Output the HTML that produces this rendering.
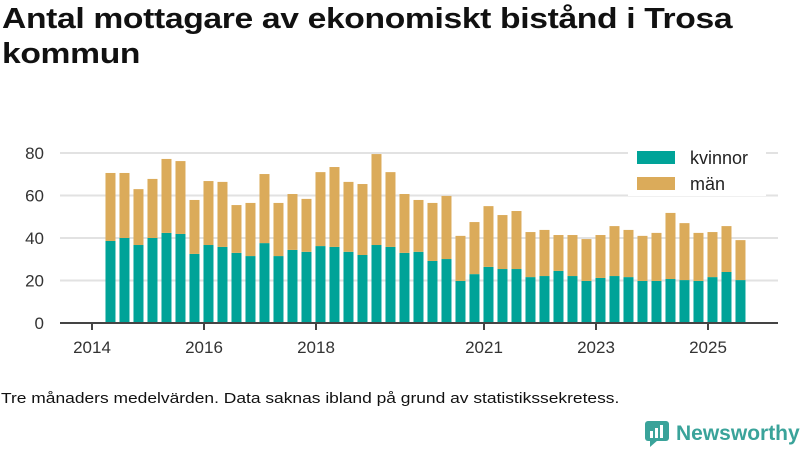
<!DOCTYPE html>
<html><head><meta charset="utf-8"><style>
body{margin:0;width:800px;height:450px;background:#fff;font-family:"Liberation Sans",sans-serif;overflow:hidden;position:relative}
h1{position:absolute;left:2px;top:2px;margin:0;font-size:29px;line-height:35px;font-weight:bold;color:#111;letter-spacing:-0.3px;transform:scaleX(1.16);transform-origin:left top;white-space:nowrap}
.cap{position:absolute;left:1px;top:390px;font-size:15px;color:#111;transform:scaleX(1.16);transform-origin:left top;white-space:nowrap}
.logo{position:absolute;left:644px;top:420px;font-size:21px;font-weight:bold;color:#3aa39a;display:flex;align-items:center}
</style></head><body>
<h1>Antal mottagare av ekonomiskt bistånd i Trosa<br>kommun</h1>
<svg id="c" width="800" height="450" style="position:absolute;left:0;top:0"></svg>
<div class="cap">Tre månaders medelvärden. Data saknas ibland på grund av statistikssekretess.</div>
<div class="logo"><svg width="26" height="28" style="margin-right:6px"><rect x="1" y="1" width="24" height="20" rx="3" fill="#3aa39a"/><polygon points="6,20 14,20 6,27" fill="#3aa39a"/><rect x="6" y="11" width="3" height="7" fill="#fff"/><rect x="11" y="8" width="3" height="10" fill="#fff"/><rect x="16" y="5" width="3" height="13" fill="#fff"/></svg>Newsworthy</div>
<script>
const dates=[];for(let i=0;i<46;i++)dates.push(2014.33+0.25*i);
const kvinnor=[38.6,40,36.7,40,42.4,41.9,32.5,36.7,35.8,33,31.5,37.6,31.5,34.4,33.5,36.2,35.8,33.5,32,36.7,35.8,33,33.5,29.2,30.1,19.8,23,26.4,25.4,25.4,21.6,22.1,24.5,22.1,19.8,21.2,22.1,21.6,19.8,19.8,20.7,20.2,19.8,21.6,24,20.2];
const man=[32,30.6,26.3,27.8,34.8,34.3,25.4,30.1,30.6,22.5,25,32.5,25,26.3,24.9,34.8,37.6,32.9,33.4,42.8,35.2,27.7,24.4,27.3,29.7,21.2,24.5,28.6,25.4,27.3,21.2,21.7,16.9,19.3,19.7,20.2,23.5,22.2,21.2,22.6,31.1,26.8,22.6,21.2,21.6,18.8];
const yTicks=[0,20,40,60,80];
const xTicks=[2014,2016,2018,2021,2023,2025];
const NS="http://www.w3.org/2000/svg",svg=document.getElementById('c');
const X=t=>92+(t-2014)*56, Y=v=>323-v*2.125;
function el(n,a,p){const e=document.createElementNS(NS,n);for(const k in a)e.setAttribute(k,a[k]);(p||svg).appendChild(e);return e;}
yTicks.forEach(v=>{
 if(v>0){const g=el('line',{x1:60,x2:778,y1:Y(v),y2:Y(v),stroke:'#e2e2e2','stroke-width':2});
 
 }
 const t=el('text',{x:44,y:Y(v)+6,'text-anchor':'end','font-size':17,fill:'#333','font-family':'Liberation Sans'});t.textContent=v;
 
 
});
dates.forEach((d,i)=>{
 const x=X(d)-5;
 const a=el('rect',{x:x,width:10,y:Y(kvinnor[i]),height:kvinnor[i]*2.125,fill:'#00a398'});
 
 
 const b=el('rect',{x:x,width:10,y:Y(kvinnor[i]+man[i]),height:man[i]*2.125,fill:'#dbab5a'});
 
 
});
const ax=el('line',{x1:60,x2:778,y1:323,y2:323,stroke:'#444','stroke-width':2});


xTicks.forEach(y=>{
 const l=el('line',{x1:X(y),x2:X(y),y1:323,y2:330,stroke:'#444','stroke-width':2});
 
 
 const t=el('text',{x:X(y),y:353,'text-anchor':'middle','font-size':17,fill:'#333','font-family':'Liberation Sans'});t.textContent=y;
 
 
});
const lg=el('g',{});


el('rect',{x:628,y:144,width:138,height:52,fill:'#fff'},lg);
[['kvinnor','#00a398',151],['män','#dbab5a',177]].forEach(([n,c,y])=>{
 const r=el('rect',{x:637,y:y,width:38,height:13,fill:c},lg);
 
 
 const t=el('text',{x:690,y:y+13,'font-size':18,fill:'#222','font-family':'Liberation Sans'},lg);t.textContent=n;
 
 
});
</script>
</body></html>
